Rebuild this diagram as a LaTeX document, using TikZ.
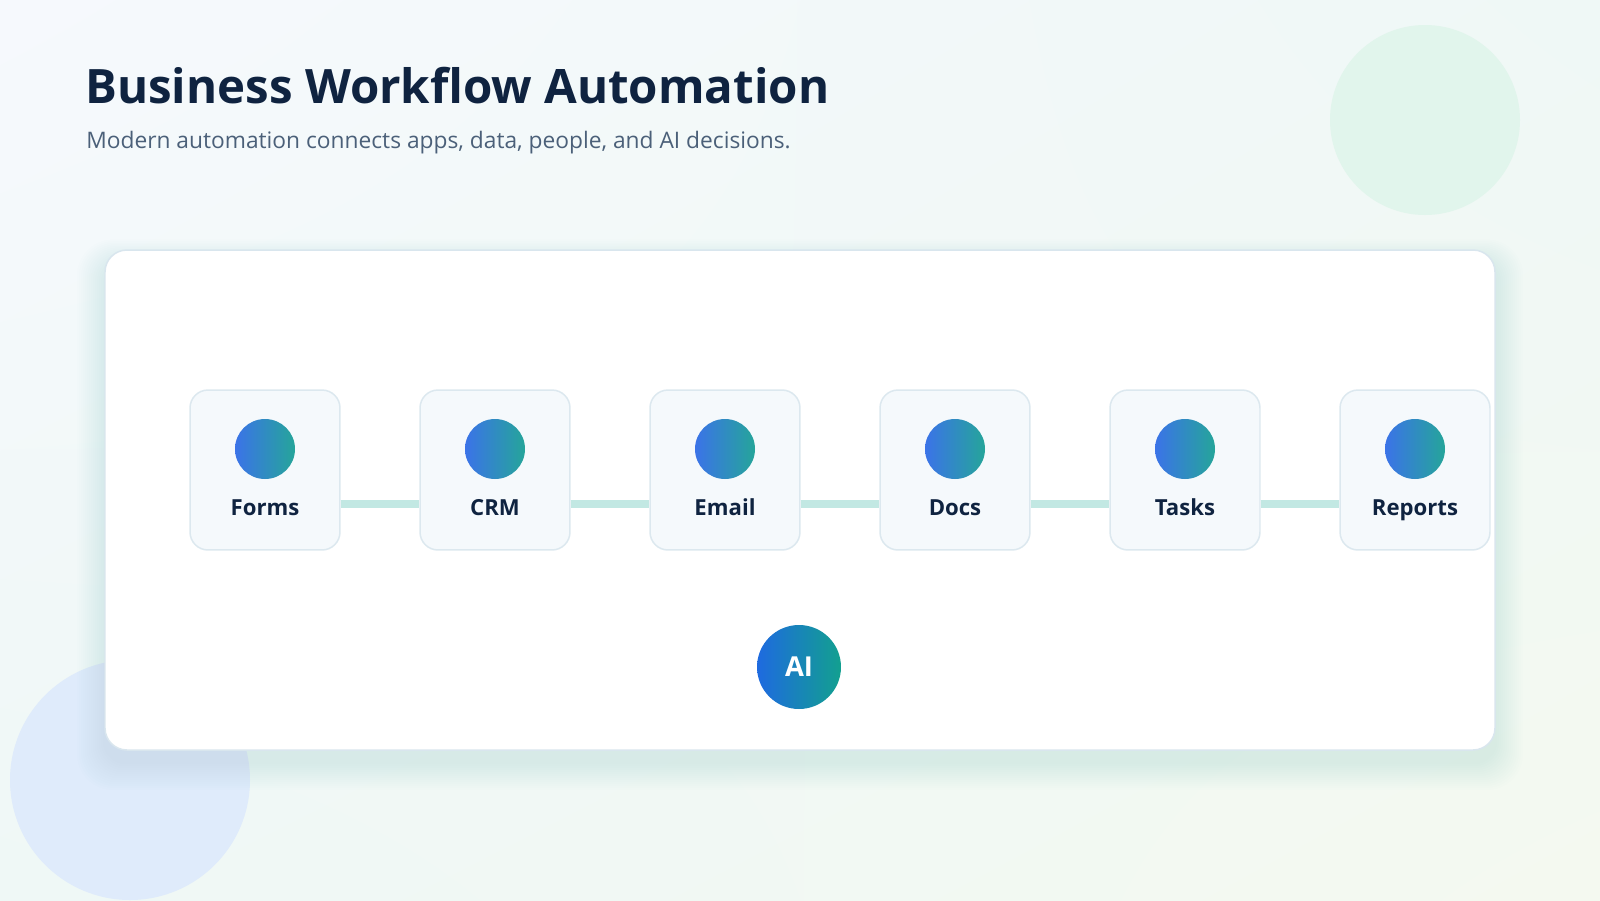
\documentclass[tikz,border=0pt]{standalone}
\usepackage{fontspec}
\setmainfont{Open Sans}
\usepackage{xcolor}
\usetikzlibrary{positioning,calc,shadings}

\definecolor{navy}{HTML}{0F2340}
\definecolor{slate}{HTML}{4B6079}
\definecolor{boxfill}{HTML}{F5F9FC}
\definecolor{boxline}{HTML}{DCE8EF}
\definecolor{linkcol}{HTML}{C2E8E3}
\definecolor{iconL}{HTML}{3B73E8}
\definecolor{iconR}{HTML}{25A59A}
\definecolor{aiL}{HTML}{1E6AE0}
\definecolor{aiR}{HTML}{12A08F}
\definecolor{cardline}{HTML}{D9E6EE}
\definecolor{mint}{HTML}{E1F5EC}
\definecolor{sky}{HTML}{DFEBFB}
\definecolor{bgUL}{HTML}{F6F9FD}
\definecolor{bgUR}{HTML}{EFF8F6}
\definecolor{bgLL}{HTML}{EFF8F6}
\definecolor{bgLR}{HTML}{F4F9F0}
\definecolor{shadowcol}{HTML}{5A7A80}

\begin{document}
\begin{tikzpicture}[x=0.02cm,y=-0.02cm,
  appbox/.style={draw=boxline,fill=boxfill,line width=0.85pt,rounded corners=0.36cm,
    minimum width=3cm,minimum height=3.2cm,inner sep=0pt},
  icon/.style={circle,minimum size=1.2cm,inner sep=0pt,left color=iconL,right color=iconR},
  applabel/.style={anchor=base,text=navy,font=\bfseries\fontsize{12.6}{14}\selectfont},
  link/.style={linkcol,line width=4pt}]

\useasboundingbox (0,0) rectangle (1600,900);
\shade[upper left=bgUL,upper right=bgUR,lower left=bgLL,lower right=bgLR] (0,0) rectangle (1600,900);

\fill[mint] (1425,120) circle (95);
\fill[sky] (130,780) circle (120);

\foreach\k in {1,...,14}
  \fill[shadowcol,opacity=0.0085,rounded corners=0.44cm+\k*0.02cm]
    (105-2*\k,262-1.6*\k) rectangle (1495+2*\k,750+12+2*\k);
\draw[cardline,fill=white,line width=0.85pt,rounded corners=0.44cm] (105,250) rectangle (1495,750);

\node[anchor=base west,inner sep=0pt,text=navy,font=\bfseries\fontsize{27}{32}\selectfont] (title) at (85,103) {Business Workflow Automation};
\node[anchor=base west,inner sep=0pt,text=slate,font=\fontsize{12.95}{15}\selectfont] (subtitle) at (86,148) {Modern automation connects apps, data, people, and AI decisions.};

\foreach\name/\lab [count=\i from 0] in {forms/Forms,crm/CRM,email/Email,docs/Docs,tasks/Tasks,reports/Reports}
{
  \node[appbox] (\name) at (265+230*\i,470) {};
  \node[icon] (\name-icon) at (265+230*\i,449) {};
  \node[applabel] (\name-text) at (265+230*\i,515) {\lab};
}

\foreach\a/\b in {forms/crm,crm/email,email/docs,docs/tasks,tasks/reports}
  \draw[link] ([yshift=-0.68cm]\a.east) -- ([yshift=-0.68cm]\b.west);

\node[circle,minimum size=1.68cm,inner sep=0pt,left color=aiL,right color=aiR,
  text=white,font=\bfseries\fontsize{15.6}{18}\selectfont] (ai) at (799,667) {AI};

\end{tikzpicture}
\end{document}
